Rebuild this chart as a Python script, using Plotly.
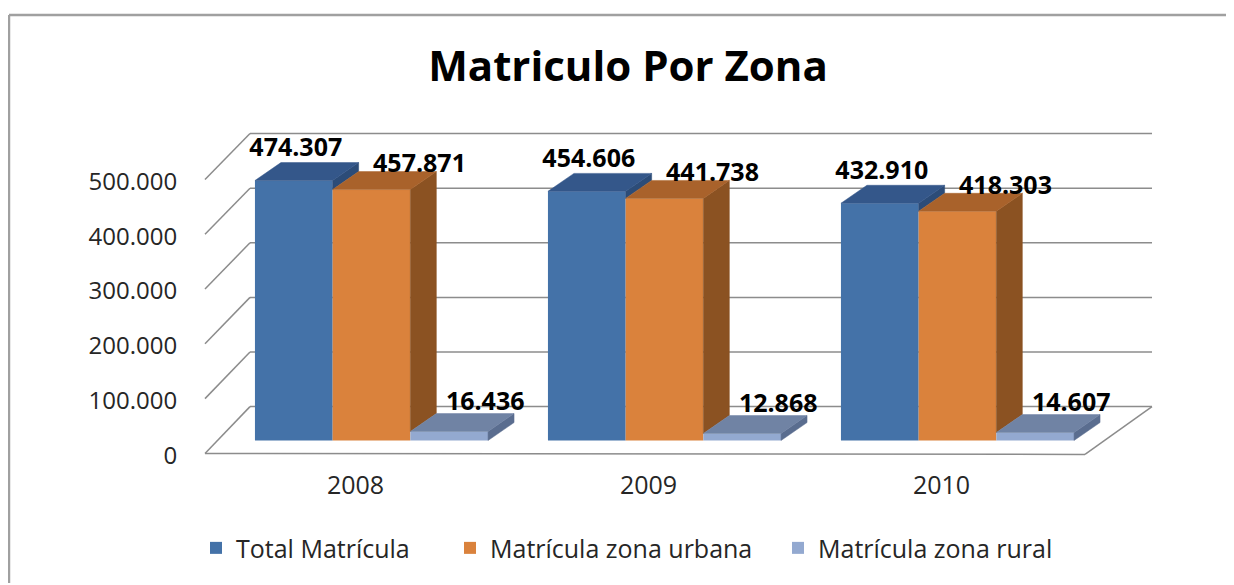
import plotly.graph_objects as go

# ---------------- data ----------------
years = ["2008", "2009", "2010"]
total_matricula = [474307, 454606, 432910]
matricula_urbana = [457871, 441738, 418303]
matricula_rural = [16436, 12868, 14607]
series_names = ["Total Matrícula", "Matrícula zona urbana", "Matrícula zona rural"]
y_tick_values = [0, 100000, 200000, 300000, 400000, 500000]

# ---------------- styling ----------------
OFF = 8                      # page body margin
W, H = 1234 - OFF, 585 - OFF
FONT = "Open Sans"
front_colors = ["#4472A8", "#DA823C", "#93A9D0"]
top_colors = ["#34578A", "#A9622B", "#7083A4"]
side_colors = ["#2C4C78", "#8B5222", "#5A6D8F"]
label_dx_px = [2, 48, 36]
label_dy_px = [31, 24, 28]
legend_text_x = [236, 490, 818]
GRID = "#8C8C8C"

# geometry in reference-page pixels
PLOT_L, PLOT_B = 205, 470
X_PX, X0_PX = 293.0, 355.5
S = 275 / 500000.0
Y0_FRONT, Y0_BAR = 457, 442
BAR_W_PX, BAR_SHIFT_PX = 77.7, 16
DEPTH_X_PX, DEPTH_Y_PX = 26, 18
BACK_L, BACK_R, BACK_Y0, S_BACK = 250, 1152, 408, 274 / 500000.0
FLOOR_FL_Y, FLOOR_FR_X, FLOOR_FR_Y = 455, 1085, 456

plot_w = W - (PLOT_L - OFF)
plot_h = PLOT_B - OFF
x_r0 = (PLOT_L - X0_PX) / X_PX
xrange = [x_r0, x_r0 + plot_w / X_PX]
bar_r0 = -(PLOT_B - Y0_BAR) / S        # axis "y": bar plane
front_r0 = -(PLOT_B - Y0_FRONT) / S    # axis "y2": front plane with tick labels
bar_range = [bar_r0, bar_r0 + plot_h / S]
front_range = [front_r0, front_r0 + plot_h / S]

BW = BAR_W_PX / X_PX
SHIFT = BAR_SHIFT_PX / X_PX
DX = DEPTH_X_PX / X_PX
DV = DEPTH_Y_PX / S

series = [total_matricula, matricula_urbana, matricula_rural]
xs = list(range(len(years)))


def fmt(v):
    return f"{v:,}".replace(",", ".")


def px(x):
    return (x - OFF) / W


def py(y):
    return 1 - (y - OFF) / H


fig = go.Figure()
legend_ids = ["legend", "legend2", "legend3"]

# front faces (real bars)
for j, (name, vals) in enumerate(zip(series_names, series)):
    fig.add_trace(go.Bar(
        x=xs, y=vals, width=BW, offset=SHIFT - 1.5 * BW + j * BW,
        name=name, marker=dict(color=front_colors[j], line=dict(width=0)),
        yaxis="y", legend=legend_ids[j],
        hovertemplate=name + ": %{y:,d}<extra></extra>",
    ))

# top and side faces computed from the same values
for j, vals in enumerate(series):
    tx, ty, sx, sy = [], [], [], []
    for i, v in enumerate(vals):
        xl = i + SHIFT - 1.5 * BW + j * BW
        xr = xl + BW
        tx += [xl, xr, xr + DX, xl + DX, xl, None]
        ty += [v, v, v + DV, v + DV, v, None]
        lower = series[j + 1][i] if j + 1 < len(series) else 0
        if lower < v:
            sx += [xr, xr, xr + DX, xr + DX, xr, None]
            sy += [lower, v, v + DV, lower + DV, lower, None]
    fig.add_trace(go.Scatter(x=sx, y=sy, mode="lines", fill="toself",
                             fillcolor=side_colors[j], line=dict(width=0.5, color=side_colors[j]),
                             yaxis="y", showlegend=False, hoverinfo="skip"))
    fig.add_trace(go.Scatter(x=tx, y=ty, mode="lines", fill="toself",
                             fillcolor=top_colors[j], line=dict(width=0.5, color=top_colors[j]),
                             yaxis="y", showlegend=False, hoverinfo="skip"))

# data labels on the front-plane axis (drawn above the bars)
for j, vals in enumerate(series):
    lx = [i + SHIFT - BW + j * BW + label_dx_px[j] / X_PX for i in xs]
    ly = [v + (label_dy_px[j] + (Y0_FRONT - Y0_BAR)) / S for v in vals]
    fig.add_trace(go.Scatter(x=lx, y=ly, mode="text", text=[fmt(v) for v in vals],
                             textposition="middle center",
                             textfont=dict(family=FONT, size=25, color="#000000", weight="bold"),
                             yaxis="y2", showlegend=False, hoverinfo="skip"))

# pseudo-3D walls: gridlines, diagonals, floor
shapes = []
for v in y_tick_values:
    yb = BACK_Y0 - v * S_BACK
    yf = FLOOR_FL_Y - v * S
    shapes.append(dict(type="line", xref="paper", yref="paper", layer="below",
                       x0=px(BACK_L), x1=px(BACK_R), y0=py(yb), y1=py(yb),
                       line=dict(color=GRID, width=1.5)))
    shapes.append(dict(type="line", xref="paper", yref="paper", layer="below",
                       x0=px(PLOT_L), x1=px(BACK_L), y0=py(yf), y1=py(yb),
                       line=dict(color=GRID, width=1.5)))
shapes.append(dict(type="line", xref="paper", yref="paper", layer="below",
                   x0=px(PLOT_L), x1=px(FLOOR_FR_X), y0=py(FLOOR_FL_Y), y1=py(FLOOR_FR_Y),
                   line=dict(color=GRID, width=1.5)))
shapes.append(dict(type="line", xref="paper", yref="paper", layer="below",
                   x0=px(FLOOR_FR_X), x1=px(BACK_R), y0=py(FLOOR_FR_Y), y1=py(BACK_Y0),
                   line=dict(color=GRID, width=1.5)))
# outer chart border (top and left visible)
shapes.append(dict(type="line", xref="paper", yref="paper",
                   x0=0.0008, x1=1.0, y0=py(15), y1=py(15),
                   line=dict(color="#A0A0A0", width=2.5)))
shapes.append(dict(type="line", xref="paper", yref="paper",
                   x0=0.0008, x1=0.0008, y0=py(15), y1=0,
                   line=dict(color="#A0A0A0", width=2.5)))

legend_common = dict(orientation="h", xanchor="left", yanchor="middle",
                     y=py(550), font=dict(size=25, color="#262626"),
                     bgcolor="rgba(0,0,0,0)", borderwidth=0)

fig.update_layout(
    width=W, height=H,
    margin=dict(l=0, r=0, t=0, b=0),
    paper_bgcolor="white", plot_bgcolor="rgba(0,0,0,0)",
    barmode="overlay",
    font=dict(family=FONT, color="#262626"),
    title=dict(text="Matriculo Por Zona", x=px(628), xanchor="center",
               y=py(66), yanchor="middle",
               font=dict(family=FONT, size=42, color="#000000", weight="bold")),
    xaxis=dict(domain=[px(PLOT_L), 1], range=xrange, tickvals=xs, ticktext=years,
               showgrid=False, zeroline=False, showline=False, ticks="",
               tickfont=dict(size=25, color="#262626"), ticklabelstandoff=0,
               fixedrange=True),
    yaxis=dict(domain=[py(PLOT_B), 1], range=bar_range, visible=False,
               fixedrange=True),
    yaxis2=dict(domain=[py(PLOT_B), 1], range=front_range, overlaying="y",
                side="left", anchor="x", tickvals=y_tick_values,
                ticktext=[fmt(v) for v in y_tick_values],
                showgrid=False, zeroline=False, showline=False,
                ticks="outside", ticklen=22, tickcolor="rgba(0,0,0,0)",
                tickfont=dict(size=24, color="#262626"), fixedrange=True),
    legend=dict(x=px(legend_text_x[0] - 40), **legend_common),
    legend2=dict(x=px(legend_text_x[1] - 40), **legend_common),
    legend3=dict(x=px(legend_text_x[2] - 40), **legend_common),
    shapes=shapes,
)

fig.write_html("out.html")
